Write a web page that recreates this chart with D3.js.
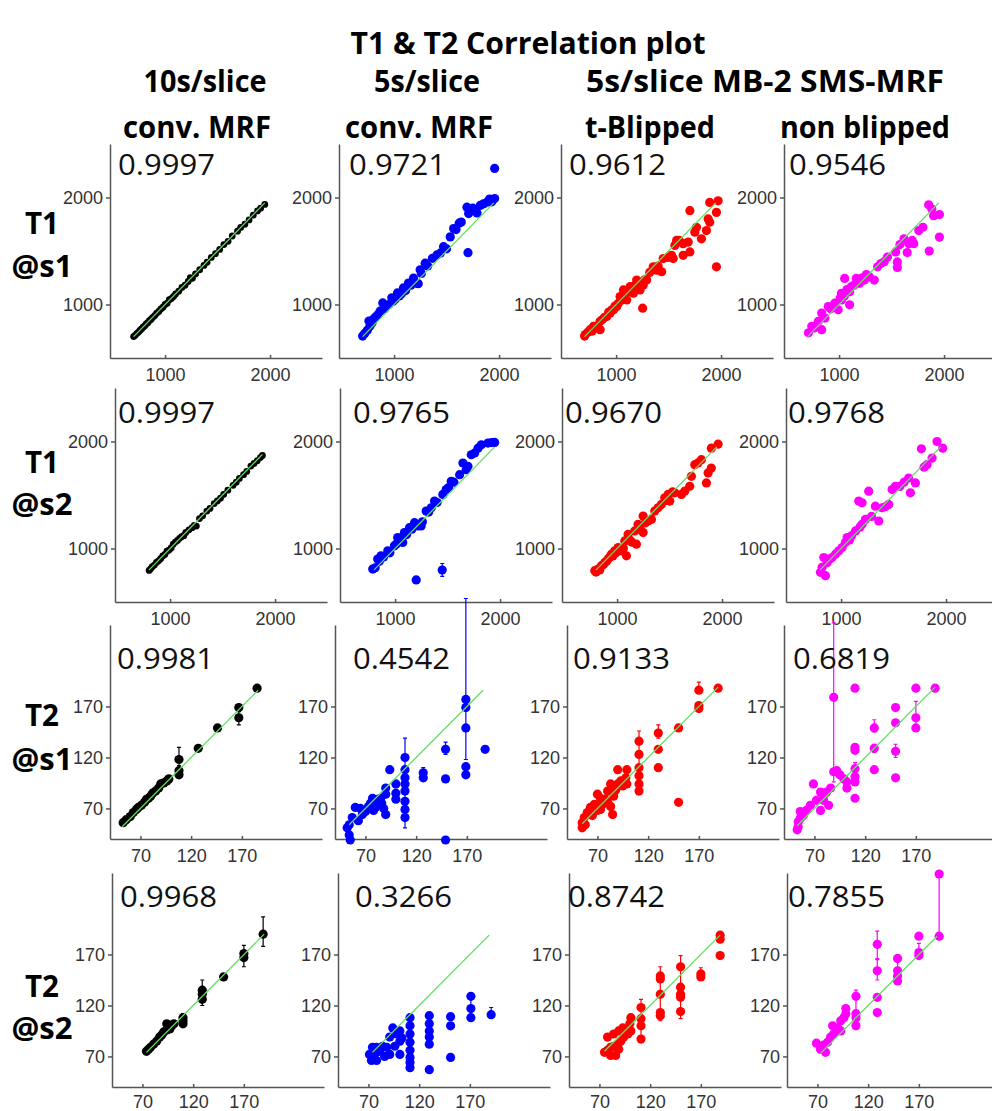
<!DOCTYPE html>
<html>
<head>
<meta charset="utf-8">
<script src="https://cdn.jsdelivr.net/npm/d3@7"></script>
<style>
  body { margin: 0; background: #fff; }
  .axis path, .axis line { stroke: #555; stroke-width: 1.5; }
</style>
</head>
<body>
<svg id="chart" width="992" height="1111"></svg>
<script>
// ---- data ----
var title = "T1 & T2 Correlation plot";
var colHeaders = [
  { text: "10s/slice", line: 0, col: 0 }, { text: "conv. MRF", line: 1, col: 0 },
  { text: "5s/slice", line: 0, col: 1 }, { text: "conv. MRF", line: 1, col: 1 },
  { text: "5s/slice MB-2 SMS-MRF", line: 0, col: 2.5 },
  { text: "t-Blipped", line: 1, col: 2 }, { text: "non blipped", line: 1, col: 3 }
];
var rowLabels = [["T1", "@s1"], ["T1", "@s2"], ["T2", "@s1"], ["T2", "@s2"]];
var correlations = [
  [0.9997, 0.9721, 0.9612, 0.9546],
  [0.9997, 0.9765, 0.9670, 0.9768],
  [0.9981, 0.4542, 0.9133, 0.6819],
  [0.9968, 0.3266, 0.8742, 0.7855]
];
var t1Ticks = [1000, 2000];
var t2Ticks = [70, 120, 170];
var t1Domain = [475, 2495], t1YDomain = [500, 2500];
var t2Domain = [40, 249], t2YDomain = [40, 250];

// identity (fit) line extent per panel
var fitRanges = [
  [[700, 1950], [700, 1950], [700, 1950], [700, 1950]],
  [[800, 1880], [800, 1950], [800, 1950], [800, 1950]],
  [[52, 186], [54, 186], [55, 189], [53, 189]],
  [[74, 190], [74, 189], [75, 189], [73, 188]]
];

// points: [reference, measured] or [reference, measured, barLow, barHigh]
var t1s1_conv10 = [[700,700],[715,712],[730,728],[745,740],[760,757],[775,772],[790,788],[805,800],[820,818],[835,830],[850,848],[865,860],[880,878],[900,895],[920,918],[940,935],[960,958],[980,975],[1000,1000],[1020,1012],[1040,1045],[1060,1055],[1080,1075],[1100,1098],[1130,1125],[1160,1160],[1190,1180],[1220,1215],[1240,1250],[1260,1245],[1290,1285],[1330,1325],[1370,1365],[1400,1395],[1440,1440],[1480,1475],[1520,1515],[1560,1560],[1600,1590],[1640,1640],[1690,1685],[1720,1720],[1760,1750],[1800,1790],[1840,1835],[1880,1875],[1910,1900],[1950,1935]];
var t1s1_conv5 = [[700,705],[720,730],[745,760],[770,800],[790,830],[760,845],[800,860],[820,880],[840,900],[866,938],[892,1015],[910,960],[930,985],[950,1000],[978,1062],[990,1030],[1010,1050],[1032,1108],[1050,1080],[1070,1100],[1089,1155],[1110,1130],[1137,1201],[1160,1180],[1185,1247],[1210,1200],[1230,1195],[1248,1324],[1260,1290],[1296,1386],[1320,1360],[1365,1432],[1408,1463],[1440,1480],[1471,1540],[1500,1520],[1535,1632],[1567,1710,1680,1740],[1590,1700],[1620,1760],[1640,1771],[1694,1910],[1704,1484],[1710,1850],[1750,1900],[1790,1855],[1821,1926],[1850,1940],[1885,1956],[1910,1985],[1930,1960],[1958,1990],[1958,2272]];
var t1s1_tblip = [[700,705],[706,719],[730,740],[753,765],[770,750],[785,796],[800,780],[820,800],[848,843],[848,765],[870,860],[890,880],[911,889],[930,930],[943,920],[960,950],[975,951],[990,985],[1006,981],[1020,1010],[1038,1074],[1050,1040],[1070,1136],[1080,1090],[1101,1043],[1115,1120],[1133,1167],[1150,1120],[1165,1105],[1180,1180],[1196,1228],[1210,1170],[1228,1136],[1240,1200],[1253,966],[1259,1182],[1270,1230],[1291,1228],[1320,1300],[1354,1352],[1386,1321],[1400,1360],[1434,1306],[1449,1429],[1490,1440],[1528,1460],[1544,1429],[1560,1552],[1576,1599],[1600,1600],[1639,1568],[1639,1460],[1687,1583],[1703,1877,1850,1910],[1703,1491],[1750,1676],[1766,1722],[1813,1614],[1861,1691],[1877,1800],[1892,1769],[1892,1954],[1956,1861],[1956,1352],[1972,1969]];
var t1s1_nonblip = [[708,735],[740,796],[760,780],[802,843],[834,765],[834,920],[865,873],[897,981],[920,960],[959,1012],[991,951],[1010,1060],[1022,1105],[1022,1043],[1050,1080],[1053,1244],[1075,1140],[1100,1120],[1100,997],[1116,1167],[1140,1180],[1163,1244],[1194,1198],[1220,1250],[1241,1228],[1260,1280],[1288,1259],[1335,1228],[1367,1352],[1398,1383],[1430,1400],[1461,1444],[1539,1491],[1555,1398],[1555,1346],[1580,1560],[1618,1614],[1649,1485],[1665,1568],[1696,1599],[1712,1568],[1759,1691],[1799,1722],[1853,1932],[1859,1500],[1884,1892],[1900,1830],[1956,1840],[1956,1630]];

var t1s2_conv10 = [[800,795],[815,810],[830,830],[850,845],[870,870],[890,885],[910,905],[930,930],[950,945],[970,975],[990,985],[1010,1005],[1030,1040],[1050,1060],[1070,1075],[1090,1095],[1110,1110],[1130,1120],[1150,1150],[1180,1175],[1210,1195],[1230,1215],[1250,1210],[1280,1280],[1310,1305],[1350,1350],[1380,1375],[1420,1420],[1450,1445],[1480,1470],[1510,1505],[1550,1545],[1600,1590],[1630,1620],[1660,1655],[1700,1690],[1730,1720],[1770,1770],[1800,1795],[1830,1820],[1860,1850],[1880,1870]];
var t1s2_conv5 = [[787,808],[810,820],[834,901],[850,880],[866,932],[890,920],[930,978],[950,960],[994,1025],[1010,1040],[1025,1102],[1050,1080],[1073,1056],[1089,1149],[1110,1130],[1137,1195],[1160,1180],[1185,1241],[1201,706],[1217,1211],[1248,1211],[1260,1250],[1296,1350],[1320,1340],[1344,1381],[1376,1443],[1400,1430],[1449,799,740,860],[1455,1505],[1487,1551],[1510,1570],[1535,1628],[1560,1620],[1615,1690],[1646,1799],[1678,1737],[1694,1768],[1726,1876],[1758,1892],[1790,1938],[1822,1969],[1885,1985],[1920,1990],[1949,1991]];
var t1s2_tblip = [[787,793],[800,780],[819,808],[835,800],[851,839],[870,850],[883,870],[900,880],[914,901],[930,920],[946,947],[960,930],[978,978],[990,960],[1010,1009],[1041,978],[1060,1000],[1073,1071],[1089,932],[1105,1133],[1120,1080],[1140,1060],[1168,1164],[1184,1040],[1200,1226],[1220,1180],[1248,1303],[1248,1149],[1270,1240],[1295,1257],[1327,1272],[1359,1350],[1390,1380],[1422,1412],[1454,1474],[1470,1450],[1486,1505],[1502,1443],[1530,1530],[1549,1520],[1613,1505],[1644,1536],[1692,1582],[1708,1675],[1740,1783],[1770,1800],[1803,1830],[1851,1613],[1867,1706],[1898,1752],[1898,1938],[1962,1975]];
var t1s2_nonblip = [[803,777],[819,824],[835,916],[851,746],[867,870],[890,900],[914,916],[946,947],[978,978],[1010,1009],[1041,1056],[1057,1102],[1080,1080],[1100,1120],[1137,1164],[1168,1443],[1180,1200],[1200,1226],[1200,1427],[1232,1272],[1263,1536],[1290,1300],[1327,1396],[1359,1257],[1390,1381],[1420,1390],[1454,1412],[1486,1551],[1517,1582],[1560,1580],[1600,1620],[1644,1659],[1660,1520],[1708,1613],[1765,1932],[1790,1760],[1819,1783],[1867,1845],[1914,2000],[1968,1938]];

var t2s1_conv10 = [[53,56],[56,59],[60,62],[63,66],[66,69],[68,71],[71,73],[74,76],[76,79],[78,80],[80,82],[82,85],[85,87],[88,90],[90,94],[93,95],[96,97],[98,99],[108,103],[108,107],[108,118,112,130],[127,129],[146,149],[167,159,152,165],[167,169],[185,188]];
var t2s1_conv5 = [[52,51],[54,54],[54,44],[55,39],[57,61],[60,71],[63,58],[65,70],[67,64],[70,67],[73,72],[75,75],[77,80],[78,68],[80,71],[82,79],[83,77],[85,80],[86,75],[88,70],[90,90],[90,84],[90,64],[94,108],[100,94],[100,85],[100,79],[109,120],[109,108],[109,100,51,139],[109,94],[109,87],[109,77],[109,69],[109,61],[127,105],[127,100,97,110],[149,128,123,135],[149,99],[149,39],[169,177,118,276],[169,169],[169,149],[169,111],[169,103],[188,128]];
var t2s1_tblip = [[55,51],[55,56],[57,61],[58,54],[60,66],[63,71],[65,63],[67,74],[70,68],[70,84],[73,80],[73,69],[75,74],[78,79],[80,87],[80,76],[83,94],[83,72],[85,64],[86,82],[86,90],[88,88],[90,94],[90,108],[93,97],[95,92],[98,100],[99,108],[99,94],[111,136,110,146],[111,123],[111,110],[111,102],[111,94],[111,87],[130,144,139,152],[130,128],[130,110],[150,149],[150,76],[170,186,184,194],[170,171],[170,168],[189,188]];
var t2s1_nonblip = [[53,49],[54,52],[54,57],[56,60],[56,67],[59,63],[62,68],[66,73],[69,94],[72,78],[76,86],[76,68],[79,83],[79,78],[82,86],[84,73],[86,90],[89,179,96,252],[89,106],[92,107],[95,103],[99,99],[102,96],[102,90],[110,188],[110,130],[110,127],[110,109],[110,101,96,115],[110,96],[110,80],[129,149,145,157],[129,129,125,133],[129,108],[150,169],[150,154],[150,126,120,133],[150,100],[170,188],[170,159,149,175],[170,149],[189,188]];

var t2s2_conv10 = [[74,75],[76,77],[78,79],[81,82],[84,85],[87,89],[89,91],[91,94],[94,96],[94,102],[97,97],[99,100],[101,102],[110,108],[110,105,100,112],[110,102],[129,135],[129,131,120,145],[129,126],[150,148],[170,171],[170,167,158,179],[189,190,178,207]];
var t2s2_conv5 = [[71,72],[73,66],[74,79],[76,72],[78,79],[78,66],[81,75],[84,80],[86,70],[88,79],[91,89],[91,72],[94,98],[96,80],[98,92],[101,95],[101,85],[101,72],[103,88],[111,108],[111,100],[111,92],[111,84],[111,76],[111,69],[111,64],[111,59],[130,110],[130,102],[130,95],[130,89],[130,82],[130,57],[151,109],[151,100],[151,69],[171,129],[171,117,108,129],[171,108],[191,111,108,118]];
var t2s2_tblip = [[75,74],[78,76],[78,89],[81,79],[81,71],[84,80],[84,92],[86,71],[88,82],[89,95],[89,77],[91,85],[93,98],[94,89],[96,92],[98,92],[100,102],[101,108],[101,95],[111,118],[111,107,87,126],[111,100],[111,87],[130,149],[130,146],[130,131,105,158],[130,113],[130,110],[150,158],[150,138,107,169],[150,131],[150,128],[150,114],[170,151,148,157],[170,148],[189,189],[189,185],[189,169]];
var t2s2_nonblip = [[69,83],[73,77],[76,81],[78,74],[80,84],[83,89],[85,100],[86,92],[90,98],[93,105],[93,95],[96,108],[98,117],[98,112],[108,129],[108,112,100,135],[108,108],[108,100],[129,180,165,193],[129,154,145,166],[129,128],[129,113],[149,166],[149,154,141,170],[149,149],[149,144],[170,188],[170,172,169,181],[170,169],[190,188,188,249],[190,249]];

var panelPoints = [
  [t1s1_conv10, t1s1_conv5, t1s1_tblip, t1s1_nonblip],
  [t1s2_conv10, t1s2_conv5, t1s2_tblip, t1s2_nonblip],
  [t2s1_conv10, t2s1_conv5, t2s1_tblip, t2s1_nonblip],
  [t2s2_conv10, t2s2_conv5, t2s2_tblip, t2s2_nonblip]
];

// ---- layout / style ----
var colors = ["#000000", "#0000ff", "#ff0000", "#ff00ff"];
var fitColor = "#5ee05e";
var W = 212, H = 214;
var rowTop = [144, 388, 625, 873];
var axisX = [[110, 339, 561, 784], [115, 340, 562, 786], [110, 335, 567, 784], [112, 338, 569, 787]];
var numDx = [[8, 10, 8, 5], [3, 13, 3, 2], [7, 18, 6, 9], [8, 17, -1, 1]];
var numDy = [31, 35, 44, 34];
var labelPad = [10, 10, 10, 8];
var headerX = [205, 427, 650, 865];
var headerY = [92, 138];
var rowLabelY = [[234, 277], [473, 515], [726, 770], [997, 1039]];
var boldFont = "'Open Sans', 'Noto Sans', sans-serif";

var svg = d3.select("#chart");
var fmt = d3.format(".4f");

svg.append("text")
  .attr("x", 528).attr("y", 54)
  .attr("text-anchor", "middle")
  .attr("font-family", boldFont).attr("font-weight", 700).attr("font-size", 30)
  .attr("textLength", 355).attr("lengthAdjust", "spacingAndGlyphs")
  .text(title);

var headerWidths = { "10s/slice": 123, "conv. MRF": 148, "5s/slice": 106, "5s/slice MB-2 SMS-MRF": 358, "t-Blipped": 130, "non blipped": 170 };
colHeaders.forEach(function (h) {
  var cx = h.col === 2.5 ? 765 : headerX[h.col];
  if (h.line === 1 && h.col < 2) cx -= 8;
  svg.append("text")
    .attr("x", cx).attr("y", headerY[h.line])
    .attr("text-anchor", "middle")
    .attr("font-family", boldFont).attr("font-weight", 700).attr("font-size", 31)
    .attr("textLength", headerWidths[h.text]).attr("lengthAdjust", "spacingAndGlyphs")
    .text(h.text);
});

rowLabels.forEach(function (lbl, r) {
  lbl.forEach(function (t, i) {
    svg.append("text")
      .attr("x", 42).attr("y", rowLabelY[r][i])
      .attr("text-anchor", "middle")
      .attr("font-family", boldFont).attr("font-weight", 700).attr("font-size", 31)
      .attr("textLength", i === 0 ? 34 : 61).attr("lengthAdjust", "spacingAndGlyphs")
      .text(t);
  });
});

panelPoints.forEach(function (rowPts, r) {
  var isT1 = r < 2;
  rowPts.forEach(function (pts, c) {
    var x = d3.scaleLinear().domain(isT1 ? t1Domain : t2Domain).range([0, W]);
    var y = d3.scaleLinear().domain(isT1 ? t1YDomain : t2YDomain).range([H, 0]);
    var ticks = isT1 ? t1Ticks : t2Ticks;

    var g = svg.append("g")
      .attr("transform", "translate(" + axisX[r][c] + "," + rowTop[r] + ")");

    g.append("g")
      .attr("class", "axis")
      .call(d3.axisLeft(y).tickValues(ticks).tickFormat(d3.format("d"))
        .tickSize(4).tickSizeOuter(0).tickPadding(3));

    g.append("g")
      .attr("class", "axis")
      .attr("transform", "translate(0," + H + ")")
      .call(d3.axisBottom(x).tickValues(ticks).tickFormat(d3.format("d"))
        .tickSize(-3).tickSizeOuter(0).tickPadding(labelPad[r]));

    g.selectAll(".tick text")
      .attr("font-family", "'Liberation Sans', Arial, sans-serif")
      .attr("font-size", 18)
      .attr("fill", "#333");

    // error bars
    var bars = pts.filter(function (d) { return d.length === 4; });
    g.selectAll(".ebar")
      .data(bars)
      .enter()
      .append("path")
      .attr("fill", "none")
      .attr("stroke", colors[c])
      .attr("stroke-width", 1.2)
      .attr("d", function (d) {
        var px = x(d[0]), lo = y(d[2]), hi = y(d[3]);
        return "M" + px + "," + lo + "V" + hi +
          "M" + (px - 2) + "," + lo + "H" + (px + 2) +
          "M" + (px - 2) + "," + hi + "H" + (px + 2);
      });

    g.selectAll(".dot")
      .data(pts)
      .enter()
      .append("circle")
      .attr("cx", function (d) { return x(d[0]); })
      .attr("cy", function (d) { return y(d[1]); })
      .attr("r", c === 0 && isT1 ? 3.4 : 4.6)
      .attr("fill", colors[c]);

    var fr = fitRanges[r][c];
    g.append("line")
      .attr("x1", x(fr[0])).attr("y1", y(fr[0]))
      .attr("x2", x(fr[1])).attr("y2", y(fr[1]))
      .attr("stroke", fitColor)
      .attr("stroke-width", 1.3);

    g.append("text")
      .attr("x", numDx[r][c]).attr("y", numDy[r])
      .attr("font-family", "'Open Sans', 'Noto Sans', sans-serif")
      .attr("font-size", 29)
      .attr("textLength", 97).attr("lengthAdjust", "spacingAndGlyphs")
      .attr("fill", "#111")
      .text(fmt(correlations[r][c]));
  });
});
</script>
</body>
</html>
